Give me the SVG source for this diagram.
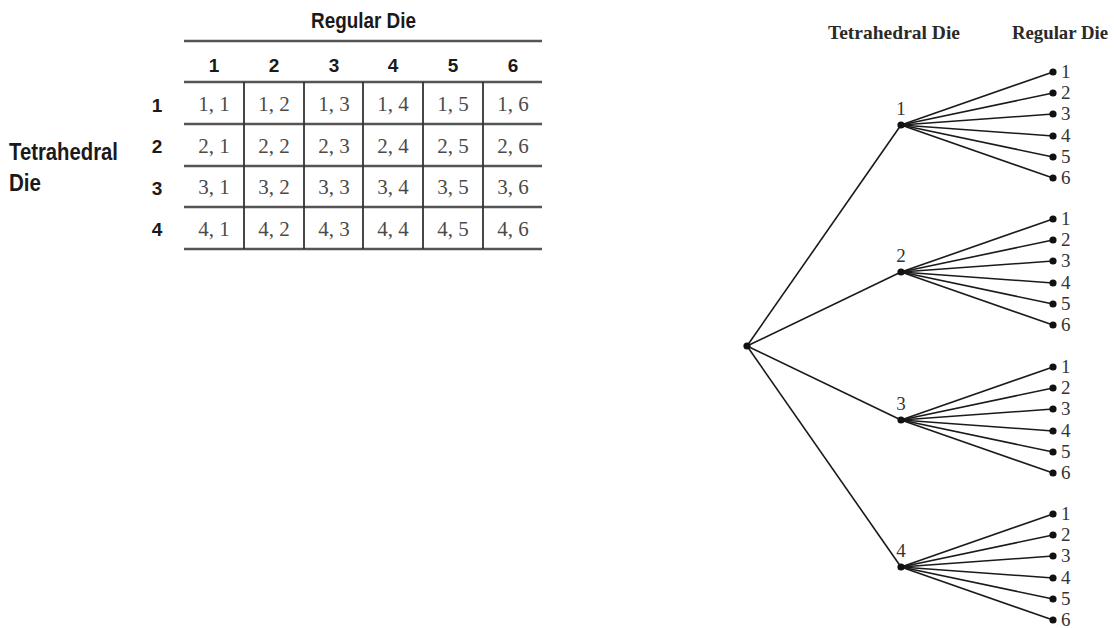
<svg xmlns="http://www.w3.org/2000/svg" width="1114" height="628" viewBox="0 0 1114 628">
<style>
.hb{font-family:"Liberation Sans",Arial,sans-serif;font-weight:bold;fill:#1a1a1a}
.cell{font-family:"Liberation Serif","DejaVu Serif",serif;font-size:21px;fill:#4a4a4a;text-anchor:middle}
.hl{stroke:#555;stroke-width:2.4}
.vl{stroke:#333;stroke-width:1.8}
.th{font-family:"Liberation Serif","DejaVu Serif",serif;font-weight:bold;font-size:19px;fill:#2a2a2a}
.lbl{font-family:"Liberation Serif","DejaVu Serif",serif;font-size:19px;fill:#333}
.edge{stroke:#1a1a1a;stroke-width:1.6;fill:none}
.dot{fill:#111}
</style>
<rect width="1114" height="628" fill="#fff"/>
<g id="table">
  <text class="hb" x="311" y="28" font-size="22" textLength="105" lengthAdjust="spacingAndGlyphs">Regular Die</text>
  <text class="hb" x="9" y="160" font-size="23" textLength="109" lengthAdjust="spacingAndGlyphs">Tetrahedral</text>
  <text class="hb" x="9" y="191" font-size="23" textLength="32" lengthAdjust="spacingAndGlyphs">Die</text>
  <g class="hb" font-size="19" text-anchor="middle">
    <text x="214" y="72">1</text><text x="274" y="72">2</text><text x="334" y="72">3</text>
    <text x="393" y="72">4</text><text x="453" y="72">5</text><text x="513" y="72">6</text>
    <text x="157" y="112">1</text><text x="157" y="153">2</text><text x="157" y="195">3</text><text x="157" y="236">4</text>
  </g>
  <g>
    <line class="hl" x1="184" y1="41" x2="542" y2="41"/>
    <line class="hl" x1="184" y1="82" x2="542" y2="82"/>
    <line class="hl" x1="184" y1="124" x2="542" y2="124"/>
    <line class="hl" x1="184" y1="166" x2="542" y2="166"/>
    <line class="hl" x1="184" y1="207" x2="542" y2="207"/>
    <line class="hl" x1="184" y1="249" x2="542" y2="249"/>
    <line class="vl" x1="244" y1="82" x2="244" y2="249"/>
    <line class="vl" x1="304" y1="82" x2="304" y2="249"/>
    <line class="vl" x1="363" y1="82" x2="363" y2="249"/>
    <line class="vl" x1="423" y1="82" x2="423" y2="249"/>
    <line class="vl" x1="483" y1="82" x2="483" y2="249"/>
  </g>
  <g>
    <text class="cell" x="214" y="111">1, 1</text><text class="cell" x="274" y="111">1, 2</text><text class="cell" x="334" y="111">1, 3</text><text class="cell" x="393" y="111">1, 4</text><text class="cell" x="453" y="111">1, 5</text><text class="cell" x="513" y="111">1, 6</text>
    <text class="cell" x="214" y="153">2, 1</text><text class="cell" x="274" y="153">2, 2</text><text class="cell" x="334" y="153">2, 3</text><text class="cell" x="393" y="153">2, 4</text><text class="cell" x="453" y="153">2, 5</text><text class="cell" x="513" y="153">2, 6</text>
    <text class="cell" x="214" y="194">3, 1</text><text class="cell" x="274" y="194">3, 2</text><text class="cell" x="334" y="194">3, 3</text><text class="cell" x="393" y="194">3, 4</text><text class="cell" x="453" y="194">3, 5</text><text class="cell" x="513" y="194">3, 6</text>
    <text class="cell" x="214" y="236">4, 1</text><text class="cell" x="274" y="236">4, 2</text><text class="cell" x="334" y="236">4, 3</text><text class="cell" x="393" y="236">4, 4</text><text class="cell" x="453" y="236">4, 5</text><text class="cell" x="513" y="236">4, 6</text>
  </g>
</g>
<g id="headers">
  <text class="th" x="828" y="39" textLength="132" lengthAdjust="spacingAndGlyphs">Tetrahedral Die</text>
  <text class="th" x="1012" y="39" textLength="96" lengthAdjust="spacingAndGlyphs">Regular Die</text>
</g>
<g id="connectors">
  <line class="edge" x1="747" y1="346" x2="901" y2="125"/>
  <line class="edge" x1="747" y1="346" x2="901" y2="272"/>
  <line class="edge" x1="747" y1="346" x2="901" y2="420"/>
  <line class="edge" x1="747" y1="346" x2="901" y2="567"/>
  <g id="fan1">
    <line class="edge" x1="901" y1="125" x2="1053" y2="72"/><line class="edge" x1="901" y1="125" x2="1053" y2="93"/><line class="edge" x1="901" y1="125" x2="1053" y2="114"/>
    <line class="edge" x1="901" y1="125" x2="1053" y2="136"/><line class="edge" x1="901" y1="125" x2="1053" y2="157"/><line class="edge" x1="901" y1="125" x2="1053" y2="178"/>
  </g>
  <g id="fan2">
    <line class="edge" x1="901" y1="272" x2="1053" y2="219"/><line class="edge" x1="901" y1="272" x2="1053" y2="240"/><line class="edge" x1="901" y1="272" x2="1053" y2="261"/>
    <line class="edge" x1="901" y1="272" x2="1053" y2="283"/><line class="edge" x1="901" y1="272" x2="1053" y2="304"/><line class="edge" x1="901" y1="272" x2="1053" y2="325"/>
  </g>
  <g id="fan3">
    <line class="edge" x1="901" y1="420" x2="1053" y2="367"/><line class="edge" x1="901" y1="420" x2="1053" y2="388"/><line class="edge" x1="901" y1="420" x2="1053" y2="409"/>
    <line class="edge" x1="901" y1="420" x2="1053" y2="431"/><line class="edge" x1="901" y1="420" x2="1053" y2="452"/><line class="edge" x1="901" y1="420" x2="1053" y2="473"/>
  </g>
  <g id="fan4">
    <line class="edge" x1="901" y1="567" x2="1053" y2="514"/><line class="edge" x1="901" y1="567" x2="1053" y2="535"/><line class="edge" x1="901" y1="567" x2="1053" y2="556"/>
    <line class="edge" x1="901" y1="567" x2="1053" y2="578"/><line class="edge" x1="901" y1="567" x2="1053" y2="599"/><line class="edge" x1="901" y1="567" x2="1053" y2="620"/>
  </g>
</g>
<g id="root"><circle class="dot" cx="747" cy="346" r="3.6"/></g>
<g id="t1"><circle class="dot" cx="901" cy="125" r="3.6"/><text class="lbl" x="901" y="115" text-anchor="middle">1</text></g>
<g id="t2"><circle class="dot" cx="901" cy="272" r="3.6"/><text class="lbl" x="901" y="262" text-anchor="middle">2</text></g>
<g id="t3"><circle class="dot" cx="901" cy="420" r="3.6"/><text class="lbl" x="901" y="410" text-anchor="middle">3</text></g>
<g id="t4"><circle class="dot" cx="901" cy="567" r="3.6"/><text class="lbl" x="901" y="557" text-anchor="middle">4</text></g>
<g id="leaves1">
  <circle class="dot" cx="1053" cy="72" r="3.6"/><text class="lbl" x="1061" y="78">1</text>
  <circle class="dot" cx="1053" cy="93" r="3.6"/><text class="lbl" x="1061" y="99">2</text>
  <circle class="dot" cx="1053" cy="114" r="3.6"/><text class="lbl" x="1061" y="120">3</text>
  <circle class="dot" cx="1053" cy="136" r="3.6"/><text class="lbl" x="1061" y="142">4</text>
  <circle class="dot" cx="1053" cy="157" r="3.6"/><text class="lbl" x="1061" y="163">5</text>
  <circle class="dot" cx="1053" cy="178" r="3.6"/><text class="lbl" x="1061" y="184">6</text>
</g>
<g id="leaves2">
  <circle class="dot" cx="1053" cy="219" r="3.6"/><text class="lbl" x="1061" y="225">1</text>
  <circle class="dot" cx="1053" cy="240" r="3.6"/><text class="lbl" x="1061" y="246">2</text>
  <circle class="dot" cx="1053" cy="261" r="3.6"/><text class="lbl" x="1061" y="267">3</text>
  <circle class="dot" cx="1053" cy="283" r="3.6"/><text class="lbl" x="1061" y="289">4</text>
  <circle class="dot" cx="1053" cy="304" r="3.6"/><text class="lbl" x="1061" y="310">5</text>
  <circle class="dot" cx="1053" cy="325" r="3.6"/><text class="lbl" x="1061" y="331">6</text>
</g>
<g id="leaves3">
  <circle class="dot" cx="1053" cy="367" r="3.6"/><text class="lbl" x="1061" y="373">1</text>
  <circle class="dot" cx="1053" cy="388" r="3.6"/><text class="lbl" x="1061" y="394">2</text>
  <circle class="dot" cx="1053" cy="409" r="3.6"/><text class="lbl" x="1061" y="415">3</text>
  <circle class="dot" cx="1053" cy="431" r="3.6"/><text class="lbl" x="1061" y="437">4</text>
  <circle class="dot" cx="1053" cy="452" r="3.6"/><text class="lbl" x="1061" y="458">5</text>
  <circle class="dot" cx="1053" cy="473" r="3.6"/><text class="lbl" x="1061" y="479">6</text>
</g>
<g id="leaves4">
  <circle class="dot" cx="1053" cy="514" r="3.6"/><text class="lbl" x="1061" y="520">1</text>
  <circle class="dot" cx="1053" cy="535" r="3.6"/><text class="lbl" x="1061" y="541">2</text>
  <circle class="dot" cx="1053" cy="556" r="3.6"/><text class="lbl" x="1061" y="562">3</text>
  <circle class="dot" cx="1053" cy="578" r="3.6"/><text class="lbl" x="1061" y="584">4</text>
  <circle class="dot" cx="1053" cy="599" r="3.6"/><text class="lbl" x="1061" y="605">5</text>
  <circle class="dot" cx="1053" cy="620" r="3.6"/><text class="lbl" x="1061" y="626">6</text>
</g>
</svg>
